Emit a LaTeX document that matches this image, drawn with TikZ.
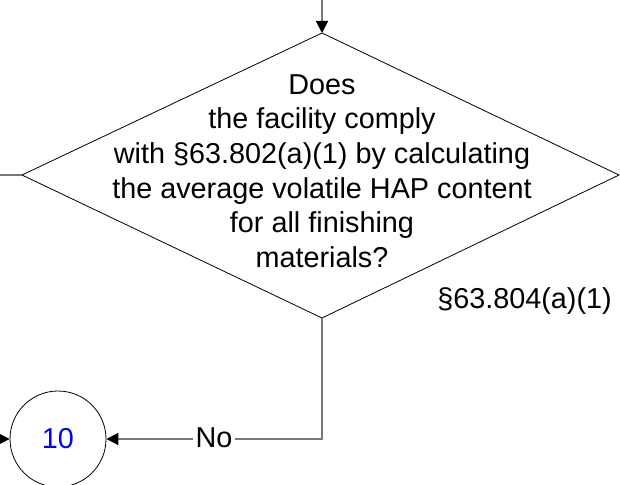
\documentclass[tikz,border=0pt]{standalone}
\usepackage{fontspec}
\setmainfont{Liberation Sans}
\usetikzlibrary{arrows.meta}
\begin{document}
\begin{tikzpicture}[x=1pt,y=-1pt,
  conn/.style={draw=gray!95!black, line width=1.8pt},
  tip/.style={-{Triangle[length=12pt,width=12pt,black]}},
  outline/.style={draw=black, line width=0.8pt},
  txt/.style={font=\fontsize{28.8}{34.6}\selectfont, align=center, inner sep=0pt}]
\useasboundingbox (0,0) rectangle (620,484);
\clip (0,0) rectangle (620,484);
% diamond
\coordinate (dt) at (322,33);
\coordinate (dl) at (22,175);
\coordinate (dr) at (619,175);
\coordinate (db) at (322,318);
\draw[outline] (dt) -- (dr) -- (db) -- (dl) -- cycle;
\node[txt] (q) at (322,171) {Does\\the facility comply\\with §63.802(a)(1) by calculating\\the average volatile HAP content\\for all finishing\\ materials?};
\node[txt, anchor=base] (ref) at (524.5,308) {§63.804(a)(1)};
% circle
\node[circle, outline, minimum size=96pt, inner sep=0pt] (c10) at (58,439) {};
\node[txt, text=blue, anchor=base] (lbl10) at (58,448) {10};
% connectors
\coordinate (topin) at (322,-5);
\coordinate (leftout) at (-5,175);
\coordinate (cin) at (-10,439);
\coordinate (corner) at (322,439);
\draw[conn, tip] (topin) -- (dt);
\draw[conn] (dl) -- (leftout);
\draw[conn, tip] (cin) -- (c10.west);
\draw[conn, tip] (db) -- (corner) -- (c10.east);
\node[txt, fill=white, inner xsep=2.5pt, anchor=base] (no) at (214,447) {No};
\end{tikzpicture}
\end{document}
